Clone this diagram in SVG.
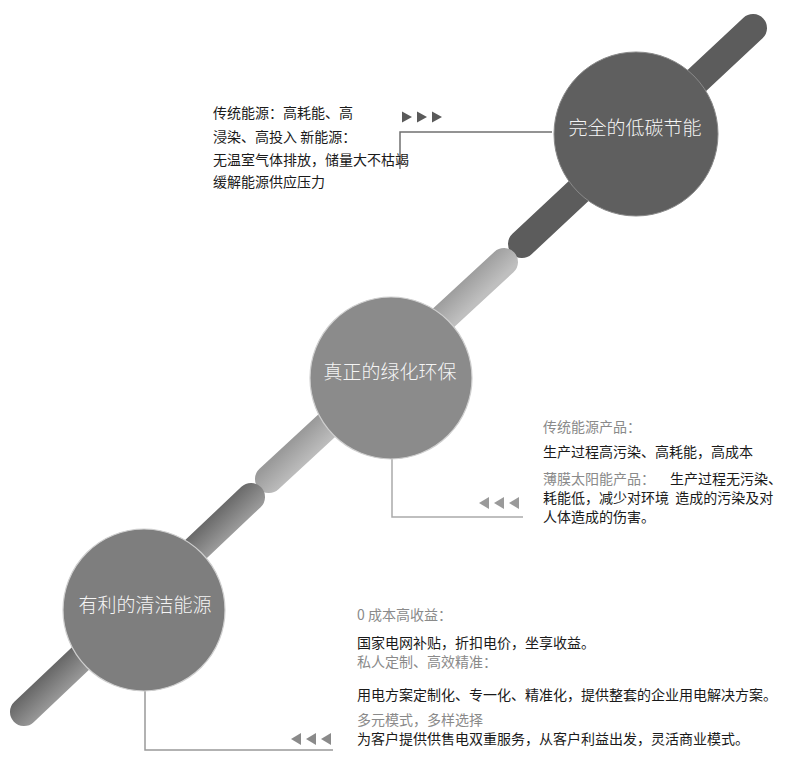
<svg xmlns="http://www.w3.org/2000/svg" xmlns:xlink="http://www.w3.org/1999/xlink" width="794" height="767" viewBox="0 0 794 767">
  <style>
    .lbl { font-family: "Noto Sans CJK SC", "Noto Sans", sans-serif; font-size: 19px; font-weight: 300; fill: #f5f5f5; text-anchor: middle; }
    .body { font-family: "Noto Sans CJK SC", "Noto Sans", sans-serif; font-size: 14px; fill: #1a1a1a; white-space: pre; }
    .gray { fill: #8a8a8a; }
    .conn { fill: none; stroke-width: 1.5; }
    .bar { fill: none; stroke-width: 28; stroke-linecap: round; }
  </style>
  <defs>
    <linearGradient id="gB" gradientUnits="userSpaceOnUse" x1="376.3" y1="359.9" x2="395.7" y2="380.1">
      <stop offset="0" stop-color="#9a9a9a"/>
      <stop offset="1" stop-color="#bfbfbf"/>
    </linearGradient>
    <linearGradient id="gC" gradientUnits="userSpaceOnUse" x1="127.3" y1="594.9" x2="146.7" y2="615.1">
      <stop offset="0" stop-color="#686868"/>
      <stop offset="1" stop-color="#9a9a9a"/>
    </linearGradient>
    <polygon id="triR" points="0,-5.5 10,0 0,5.5"/>
    <polygon id="triL" points="10,-6 0,0 10,6"/>
  </defs>
  <rect width="794" height="767" fill="#ffffff"/>

  <g id="spine">
    <line class="bar" x1="753" y1="28" x2="522" y2="244" stroke="#5c5c5c"/>
    <line class="bar" x1="504" y1="262" x2="269" y2="479" stroke="url(#gB)"/>
    <line class="bar" x1="251" y1="497" x2="24" y2="712" stroke="url(#gC)"/>
  </g>

  <g id="connectors">
    <polyline class="conn" points="552,132 400,132 400,169" stroke="#707070"/>
    <g fill="#5a5a5a">
      <use xlink:href="#triR" x="402" y="117"/>
      <use xlink:href="#triR" x="417" y="117"/>
      <use xlink:href="#triR" x="432" y="117"/>
    </g>
    <polyline class="conn" points="392,458 392,517 523,517" stroke="#aaaaaa"/>
    <g fill="#9a9a9a">
      <use xlink:href="#triL" x="479" y="503"/>
      <use xlink:href="#triL" x="494" y="503"/>
      <use xlink:href="#triL" x="509" y="503"/>
    </g>
    <polyline class="conn" points="145,691 145,750 333,750" stroke="#999999"/>
    <g fill="#8a8a8a">
      <use xlink:href="#triL" x="291" y="739"/>
      <use xlink:href="#triL" x="306" y="739"/>
      <use xlink:href="#triL" x="321" y="739"/>
    </g>
  </g>

  <g id="node-top">
    <circle cx="636" cy="134" r="82" fill="#5f5f5f" stroke="#8a8a8a" stroke-width="1"/>
    <text class="lbl" x="635" y="135">完全的低碳节能</text>
  </g>
  <g id="node-middle">
    <circle cx="391" cy="378" r="81" fill="#8b8b8b" stroke="#cfcfcf" stroke-width="1.2"/>
    <text class="lbl" x="390" y="379">真正的绿化环保</text>
  </g>
  <g id="node-bottom">
    <circle cx="144" cy="610" r="81" fill="#7e7e7e" stroke="#cfcfcf" stroke-width="1.2"/>
    <text class="lbl" x="145" y="612">有利的清洁能源</text>
  </g>

  <g id="text-top">
    <text class="body" x="213" y="118">传统能源：高耗能、高</text>
    <text class="body" x="213" y="142">浸染、高投入 新能源：</text>
    <text class="body" x="213" y="165">无温室气体排放，储量大不枯竭</text>
    <text class="body" x="213" y="187">缓解能源供应压力</text>
  </g>

  <g id="text-middle">
    <text class="body gray" x="543" y="432">传统能源产品：</text>
    <text class="body" x="543" y="457">生产过程高污染、高耗能，高成本</text>
    <text class="body gray" x="543" y="484">薄膜太阳能产品：</text>
    <text class="body" x="670" y="484">生产过程无污染、</text>
    <text class="body" x="543" y="503" xml:space="preserve">耗能低，减少对环境  造成的污染及对</text>
    <text class="body" x="543" y="522">人体造成的伤害。</text>
  </g>

  <g id="text-bottom">
    <text class="body gray" x="357" y="620">0 成本高收益：</text>
    <text class="body" x="357" y="648">国家电网补贴，折扣电价，坐享收益。</text>
    <text class="body gray" x="357" y="667">私人定制、高效精准：</text>
    <text class="body" x="357" y="700">用电方案定制化、专一化、精准化，提供整套的企业用电解决方案。</text>
    <text class="body gray" x="357" y="725">多元模式，多样选择</text>
    <text class="body" x="357" y="744">为客户提供供售电双重服务，从客户利益出发，灵活商业模式。</text>
  </g>
</svg>
